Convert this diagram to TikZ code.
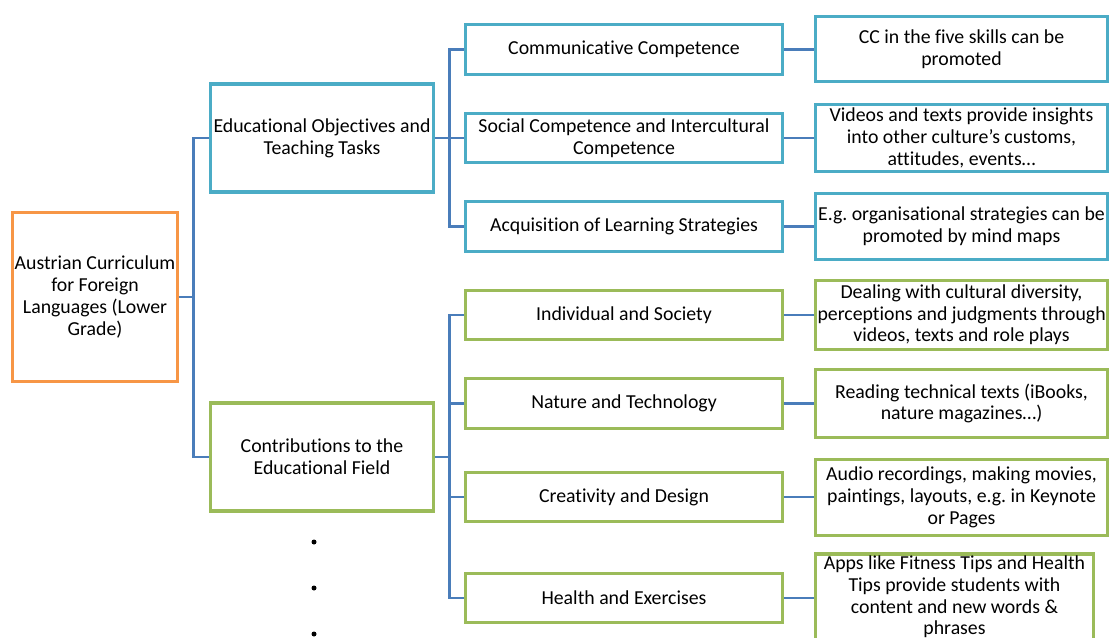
\documentclass[tikz,border=0pt]{standalone}
\usepackage{fontspec}
\setmainfont[Ligatures=NoCommon]{Carlito}
\frenchspacing
\definecolor{curorange}{HTML}{F79646}
\definecolor{objcyan}{HTML}{4BACC6}
\definecolor{fieldgreen}{HTML}{9BBB59}
\definecolor{linkblue}{HTML}{4A7DBA}
\begin{document}
\begin{tikzpicture}[x=1pt,y=-1pt,
    box/.style={draw,line width=3.2pt,fill=white,align=center,inner xsep=0.5pt,inner ysep=2pt,
      font=\fontsize{19.8}{21.7}\selectfont},
    topic/.style={box,minimum width=223pt,minimum height=108pt},
    area/.style={box,minimum width=317pt,minimum height=49.5pt},
    detail/.style={box,minimum width=292pt},
    link/.style={draw=linkblue,line width=2.8pt}]
  \useasboundingbox (0,0) rectangle (1110,637);
  % curriculum and its two parts
  \node[box,draw=curorange,minimum width=165pt,minimum height=169pt] (root) at (95,297)
    {Austrian Curriculum\\for Foreign\\Languages (Lower\\Grade)};
  \node[topic,draw=objcyan] (edu) at (322,138) {Educational Objectives and\\Teaching Tasks};
  \node[topic,draw=fieldgreen] (field) at (322,457) {Contributions to the\\Educational Field};
  % objectives
  \node[area,draw=objcyan] (comm) at (624,49.5) {Communicative Competence};
  \node[area,draw=objcyan] (social) at (624,138) {Social Competence and Intercultural\\Competence};
  \node[area,draw=objcyan] (acq) at (624,226.5) {Acquisition of Learning Strategies};
  % educational fields
  \node[area,draw=fieldgreen] (indiv) at (624,315) {Individual and Society};
  \node[area,draw=fieldgreen] (nature) at (624,403.5) {Nature and Technology};
  \node[area,draw=fieldgreen] (creat) at (624,497) {Creativity and Design};
  \node[area,draw=fieldgreen] (health) at (624,598) {Health and Exercises};
  % examples
  \node[detail,draw=objcyan,minimum height=65pt] (cc) at (961.5,49) {CC in the five skills can be\\promoted};
  \node[detail,draw=objcyan,minimum height=67pt] (videos) at (961.5,138)
    {Videos and texts provide insights\\into other culture’s customs,\\attitudes, events…};
  \node[detail,draw=objcyan,minimum height=66pt] (mindmap) at (961.5,226.5)
    {\makebox[288pt]{E.g. organisational strategies can be}\\promoted by mind maps};
  \node[detail,draw=fieldgreen,minimum height=69pt] (diversity) at (961.5,315)
    {Dealing with cultural diversity,\\\makebox[288pt][l]{perceptions and judgments through}\\videos, texts and role plays};
  \node[detail,draw=fieldgreen,minimum height=68pt] (reading) at (961.5,403.5)
    {Reading technical texts (iBooks,\\nature magazines…)};
  \node[detail,draw=fieldgreen,minimum height=76pt] (audio) at (961.5,497.5)
    {Audio recordings, making movies,\\paintings, layouts, e.g. in Keynote\\or Pages};
  \node[detail,draw=fieldgreen,minimum width=278pt,minimum height=85pt] (apps) at (954.5,597)
    {Apps like Fitness Tips and Health\\Tips provide students with\\content and new words \&\\phrases};
  % connectors
  \draw[link] (root.east) -- ++(14,0) coordinate (rj);
  \foreach \t in {edu,field}
    \draw[link] (rj) |- (\t.west);
  \draw[link] (edu.east) -- ++(14,0) coordinate (ej);
  \foreach \a in {comm,social,acq}
    \draw[link] (ej) |- (\a.west);
  \draw[link] (field.east) -- ++(14,0) coordinate (fj);
  \foreach \a in {indiv,nature,creat,health}
    \draw[link] (fj) |- (\a.west);
  \foreach \a/\d in {comm/cc,social/videos,acq/mindmap,indiv/diversity,
      nature/reading,creat/audio,health/apps}
    \draw[link] (\a.east) -- (\a.east -| \d.west);
  % more parts follow
  \foreach \y in {542,588,634}
    \fill (314,\y) circle (2.5pt);
\end{tikzpicture}
\end{document}
